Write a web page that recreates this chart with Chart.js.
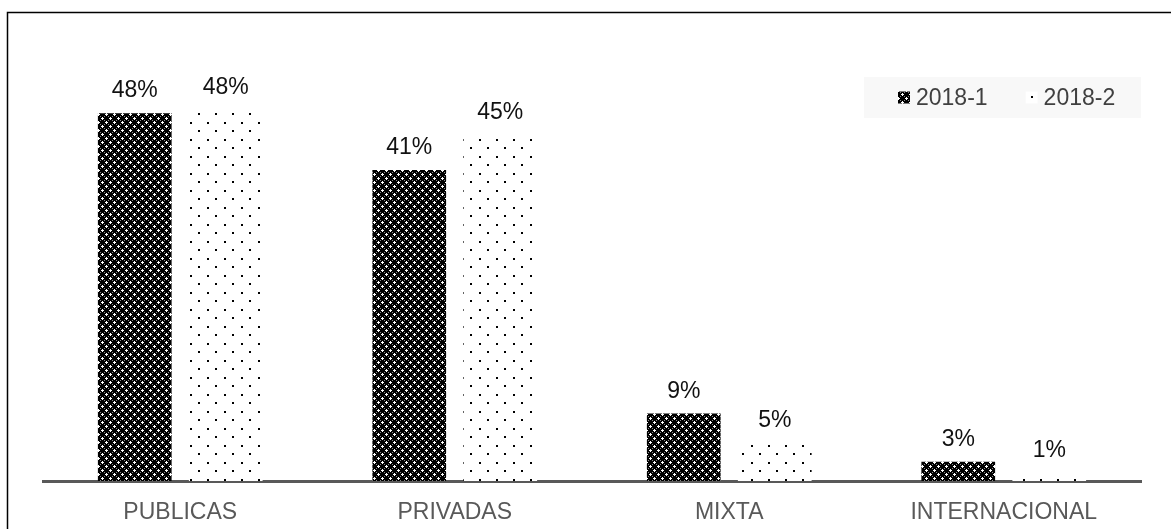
<!DOCTYPE html>
<html>
<head>
<meta charset="utf-8">
<script src="https://cdn.jsdelivr.net/npm/chart.js@4/dist/chart.umd.min.js"></script>
<style>
  html, body { margin: 0; padding: 0; background: #fff; }
  #wrap { width: 1171px; height: 529px; }
</style>
</head>
<body>
<div id="wrap"><canvas id="c" width="1171" height="529"></canvas></div>
<script>
const categories = ['PUBLICAS', 'PRIVADAS', 'MIXTA', 'INTERNACIONAL'];
const seriesNames = ['2018-1', '2018-2'];
const values2018_1 = [48.0, 40.6, 8.8, 2.5];
const values2018_2 = [48.4, 45.2, 5.0, 1.0];
const yMax = 50;

const FONT = "'Liberation Sans', Arial, sans-serif";

function darkPattern() {
  const c = document.createElement('canvas');
  c.width = 8; c.height = 8;
  const g = c.getContext('2d');
  g.fillStyle = '#000'; g.fillRect(0, 0, 8, 8);
  g.fillStyle = '#fff';
  [[2,1],[1,2],[2,2],[3,2],[2,3],[6,5],[5,6],[6,6],[7,6],[6,7]].forEach(p => g.fillRect(p[0], p[1], 1, 1));
  g.fillStyle = '#8a8a8a';
  [[0,0],[4,4],[0,4],[4,0]].forEach(p => g.fillRect(p[0], p[1], 1, 1));
  return g.createPattern(c, 'repeat');
}
function dotPattern() {
  const c = document.createElement('canvas');
  c.width = 17; c.height = 17;
  const g = c.getContext('2d');
  g.fillStyle = '#fff'; g.fillRect(0, 0, 17, 17);
  g.fillStyle = '#000';
  g.fillRect(3, 3, 2, 2);
  g.fillRect(11, 11, 2, 2);
  return g.createPattern(c, 'repeat');
}
const patterns = [darkPattern(), dotPattern()];

const framePlugin = {
  id: 'frame',
  beforeDraw(chart) {
    const ctx = chart.ctx;
    ctx.save();
    ctx.fillStyle = '#fff';
    ctx.fillRect(0, 0, chart.width, chart.height);
    ctx.strokeStyle = '#000';
    ctx.lineWidth = 1.5;
    ctx.beginPath();
    ctx.moveTo(7.5, chart.height + 2);
    ctx.lineTo(7.5, 12.5);
    ctx.lineTo(chart.width + 2, 12.5);
    ctx.stroke();
    ctx.restore();
  }
};

const legendPlugin = {
  id: 'boxLegend',
  afterDraw(chart) {
    const ctx = chart.ctx;
    ctx.save();
    ctx.fillStyle = '#f8f8f8';
    ctx.fillRect(864, 77, 277, 41);
    ctx.font = '23px ' + FONT;
    ctx.textBaseline = 'middle';
    ctx.fillStyle = '#404040';
    let x = 898;
    const cy = 97.5;
    chart.data.datasets.forEach((ds, i) => {
      ctx.fillStyle = ds.backgroundColor;
      ctx.fillRect(x, cy - 6, 12, 12);
      ctx.fillStyle = '#404040';
      ctx.fillText(ds.label, x + 18, cy + 1);
      x += 18 + ctx.measureText(ds.label).width + 38;
    });
    ctx.restore();
  }
};

const valueLabels = {
  id: 'valueLabels',
  afterDatasetsDraw(chart) {
    const ctx = chart.ctx;
    ctx.save();
    ctx.font = '23px ' + FONT;
    ctx.fillStyle = '#111';
    ctx.textAlign = 'center';
    ctx.textBaseline = 'alphabetic';
    chart.data.datasets.forEach((ds, di) => {
      const meta = chart.getDatasetMeta(di);
      meta.data.forEach((bar, i) => {
        ctx.fillText(Math.round(ds.data[i]) + '%', bar.x, bar.y - 16);
      });
    });
    ctx.restore();
  }
};

new Chart(document.getElementById('c'), {
  type: 'bar',
  data: {
    labels: categories,
    datasets: [
      { label: seriesNames[0], data: values2018_1, backgroundColor: patterns[0], borderWidth: 0,
        categoryPercentage: 0.663, barPercentage: 0.81 },
      { label: seriesNames[1], data: values2018_2, backgroundColor: patterns[1], borderWidth: 0,
        categoryPercentage: 0.663, barPercentage: 0.81 }
    ]
  },
  options: {
    responsive: false,
    animation: false,
    layout: { padding: { left: 43, right: 30, top: 98, bottom: 0 } },
    plugins: { legend: { display: false }, tooltip: { enabled: false } },
    scales: {
      y: { display: false, min: 0, max: yMax },
      x: {
        grid: { display: false, drawTicks: false },
        border: { display: true, color: '#595959', width: 3 },
        ticks: { color: '#595959', font: { family: FONT, size: 23 }, padding: 18, maxRotation: 0, autoSkip: false },
        afterFit(scale) { scale.height = 48; }
      }
    }
  },
  plugins: [framePlugin, legendPlugin, valueLabels]
});
</script>
</body>
</html>
